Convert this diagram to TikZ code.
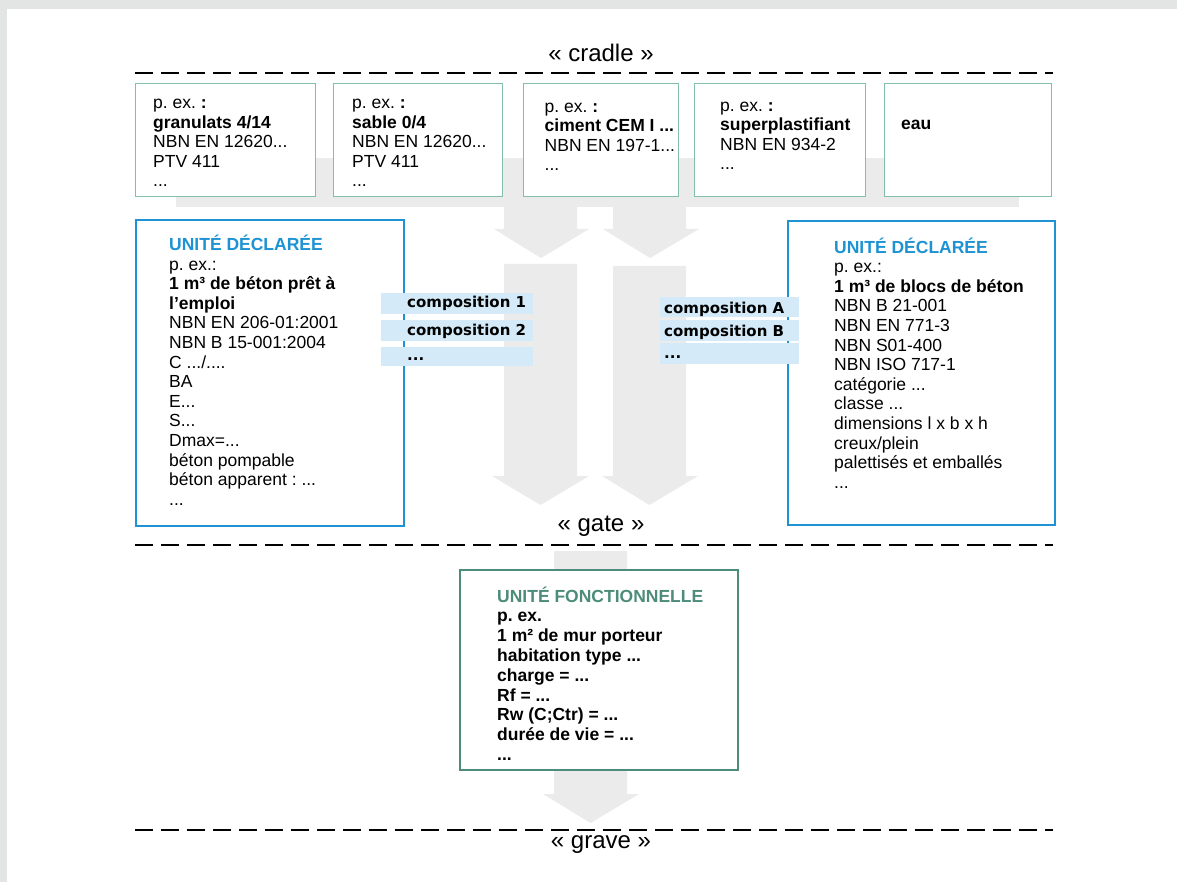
\documentclass[tikz,border=0pt]{standalone}
\usepackage{fontspec}
\setmainfont{Liberation Sans}
\newfontfamily\compfont{DejaVu Sans}
\usepackage{tikz}
\usepackage{xcolor}
\definecolor{framegray}{HTML}{E3E5E4}
\definecolor{arrowgray}{HTML}{EBEBEB}
\definecolor{topteal}{HTML}{80BFA8}
\definecolor{declblue}{HTML}{1D93D3}
\definecolor{compblue}{HTML}{D4EAF8}
\definecolor{fonctgreen}{HTML}{4D8C7A}
\frenchspacing

\begin{document}
\begin{tikzpicture}[x=1pt, y=-1pt,
    inbox/.style={draw=topteal, line width=1.2pt, fill=white, anchor=north west, inner sep=0pt},
    declbox/.style={draw=declblue, line width=2.4pt, fill=white, anchor=north west, inner sep=0pt},
    fonctbox/.style={draw=fonctgreen, line width=2.4pt, fill=white, anchor=north west, inner sep=0pt},
    boxtext/.style={anchor=base west, align=left, inner sep=0pt, font=\fontsize{17.5}{19.6}\selectfont},
    comptext/.style={anchor=base west, inner sep=0pt, font=\compfont\bfseries\fontsize{15}{18}\selectfont},
    stagelabel/.style={anchor=base, inner sep=0pt, font=\fontsize{24}{28}\selectfont},
    stageline/.style={line width=1.8pt, dash pattern=on 18pt off 8pt}] % one unit = one pixel, text placed by its last baseline
    % frame of the page
    \fill[framegray] (0,0) rectangle (1177,882);
    \fill[white] (7,9) rectangle (1177,882);
    \useasboundingbox (0,0) rectangle (1177,882);

    % grey band and flow arrows
    \fill[arrowgray] (176,158) rectangle (1019,207);
    \fill[arrowgray] (504,205) -- (577,205) -- (577,229) -- (589,229) -- (541,258) -- (494,229) -- (504,229) -- cycle;
    \fill[arrowgray] (613,205) -- (686,205) -- (686,229) -- (699,229) -- (650,258) -- (603,229) -- (613,229) -- cycle;
    \fill[arrowgray] (504,264) -- (577,264) -- (577,476) -- (589,476) -- (540.5,505) -- (492,476) -- (504,476) -- cycle;
    \fill[arrowgray] (613,266) -- (686,266) -- (686,476) -- (698,476) -- (649.5,505) -- (602,476) -- (613,476) -- cycle;
    \fill[arrowgray] (554,551) -- (627,551) -- (627,794) -- (639,794) -- (590.5,823) -- (543,794) -- (554,794) -- cycle;

    % stages
    \node[stagelabel] (cradle) at (601,62) {« cradle »};
    \draw[stageline] (135,73) -- (1053,73);
    \node[stagelabel] (gate) at (601,531) {« gate »};
    \draw[stageline] (135,545) -- (1053,545);
    \draw[stageline] (135,830) -- (1053,830);
    \node[stagelabel] (grave) at (601,848) {« grave »};

    % constituents
    \node[inbox, minimum width=180pt, minimum height=113pt] (granulats) at (135,83) {};
    \node[inbox, minimum width=169pt, minimum height=113pt] (sable) at (333,83) {};
    \node[inbox, minimum width=155pt, minimum height=113pt] (ciment) at (522.5,83) {};
    \node[inbox, minimum width=171pt, minimum height=113pt] (adjuvant) at (694,83) {};
    \node[inbox, minimum width=167pt, minimum height=113pt] (eau) at (884,83) {};
    \node[boxtext] (granulats-txt) at (153,187) {p. ex. \textbf{:}\\\textbf{granulats 4/14}\\NBN EN 12620...\\PTV 411\\...};
    \node[boxtext] (sable-txt) at (352,187) {p. ex. \textbf{:}\\\textbf{sable 0/4}\\NBN EN 12620...\\PTV 411\\...};
    \node[boxtext] (ciment-txt) at (544.5,171) {p. ex. \textbf{:}\\\textbf{ciment CEM I ...}\\NBN EN 197-1...\\...};
    \node[boxtext] (adjuvant-txt) at (720,170) {p. ex. \textbf{:}\\\textbf{superplastifiant}\\NBN EN 934-2\\...};
    \node[boxtext] (eau-txt) at (901,130) {\textbf{eau}};

    % declared units
    \node[declbox, minimum width=268pt, minimum height=306pt] (beton) at (135,219) {};
    \node[declbox, minimum width=267pt, minimum height=304pt] (blocs) at (787,220) {};
    \node[boxtext] (beton-txt) at (169,505.3) {\textcolor{declblue}{\textbf{UNITÉ DÉCLARÉE}}\\p. ex.:\\\textbf{1 m³ de béton prêt à}\\\textbf{l’emploi}\\NBN EN 206-01:2001\\NBN B 15-001:2004\\C .../....\\BA\\E...\\S...\\Dmax=...\\béton pompable\\béton apparent : ...\\...};
    \node[boxtext] (blocs-txt) at (834,488.2) {\textcolor{declblue}{\textbf{UNITÉ DÉCLARÉE}}\\p. ex.:\\\textbf{1 m³ de blocs de béton}\\NBN B 21-001\\NBN EN 771-3\\NBN S01-400\\NBN ISO 717-1\\catégorie ...\\classe ...\\dimensions l x b x h\\creux/plein\\palettisés et emballés\\...};

    % compositions
    \fill[compblue] (381,293) rectangle (533,314);
    \fill[compblue] (381,320) rectangle (533,341);
    \fill[compblue] (381,347) rectangle (533,366);
    \node[comptext] (comp-1) at (407,308) {composition 1};
    \node[comptext] (comp-2) at (407,335) {composition 2};
    \node[comptext] (comp-3) at (407,360.5) {...};
    \fill[compblue] (660,297) rectangle (799,317);
    \fill[compblue] (660,320) rectangle (799,341);
    \fill[compblue] (660,343) rectangle (799,364);
    \node[comptext] (comp-a) at (664,313) {composition A};
    \node[comptext] (comp-b) at (664,336) {composition B};
    \node[comptext] (comp-c) at (664,358) {...};

    % functional unit
    \node[fonctbox, minimum width=278pt, minimum height=200pt] (mur) at (459,569) {};
    \node[boxtext, font=\bfseries\fontsize{17.5}{19.8}\selectfont] (mur-txt) at (497,760.4) {\textcolor{fonctgreen}{UNITÉ FONCTIONNELLE}\\p. ex.\\1 m² de mur porteur\\habitation type ...\\charge = ...\\Rf = ...\\Rw (C;Ctr) = ...\\durée de vie = ...\\...};
\end{tikzpicture}
\end{document}
